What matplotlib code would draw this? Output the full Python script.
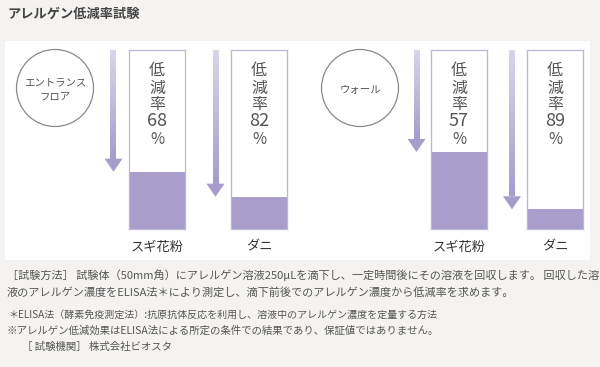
import numpy as np
import matplotlib
matplotlib.use("Agg")
import matplotlib.pyplot as plt
from matplotlib.patches import Rectangle, Circle, Polygon
from matplotlib.colors import LinearSegmentedColormap

plt.rcParams['font.family'] = ['Noto Sans CJK JP', 'DejaVu Sans']

# data
title = 'アレルゲン低減率試験'
places = ['エントランス\nフロア', 'ウォール']
allergens = ['スギ花粉', 'ダニ', 'スギ花粉', 'ダニ']
reduction = [68, 82, 57, 89]   # %
notes = [
    '［試験方法］ 試験体（50mm角）にアレルゲン溶液250μLを滴下し、一定時間後にその溶液を回収します。 回収した溶',
    '液のアレルゲン濃度をELISA法＊により測定し、滴下前後でのアレルゲン濃度から低減率を求めます。',
    '＊ELISA法（酵素免疫測定法）:抗原抗体反応を利用し、溶液中のアレルゲン濃度を定量する方法',
    '※アレルゲン低減効果はELISA法による所定の条件での結果であり、保証値ではありません。',
    '［ 試験機関］ 株式会社ビオスタ',
]

W, H = 600, 367
BG = '#f4f3f1'
FILL = '#a89dcb'
EDGE = '#bdb7d7'
TXT = '#555555'

fig = plt.figure(figsize=(6, 3.67), dpi=100, facecolor=BG)

# background layer, pixel coords
bg = fig.add_axes([0, 0, 1, 1])
bg.set_xlim(0, W)
bg.set_ylim(H, 0)
bg.axis('off')
bg.add_patch(Rectangle((5, 41), 585, 219, facecolor='white', edgecolor='none'))
bg.text(8, 14, title, fontsize=9.5, fontweight='bold', color='#444444', va='center', ha='left')

circle_x = [55, 360]
for cx, name in zip(circle_x, places):
    bg.add_patch(Circle((cx, 88), 38.5, facecolor='white', edgecolor='#8a8a8a', lw=0.9))
    bg.text(cx, 90, name, fontsize=7.5, color=TXT, ha='center', va='center', linespacing=1.65)

note_y = [275, 292, 315, 331, 347]
note_x = [7, 7, 8, 7, 22]
note_fs = [8, 8, 7.2, 7.5, 7.5]
for x, y, s, fs in zip(note_x, note_y, notes, note_fs):
    bg.text(x, y, s, fontsize=fs, color=TXT, ha='left', va='center')

# bars
box_left = [129, 231, 431, 527]
box_w = 56
arrow_x = [113.5, 215.5, 416.5, 512]
top, bottom = 50, 229

def fig_rect(x0, y0, w, h):
    return [x0 / W, 1 - (y0 + h) / H, w / W, h / H]

cmap = LinearSegmentedColormap.from_list('arr', ['#a79dcc', '#d9d5ea'])
grad = np.linspace(0, 1, 100).reshape(-1, 1)

for i, r in enumerate(reduction):
    ax = fig.add_axes(fig_rect(box_left[i], top, box_w, bottom - top))
    ax.set_xlim(0, 1)
    ax.set_ylim(0, 100)
    ax.bar([0.5], [100 - r], width=1.0, color=FILL, edgecolor='none')
    ax.set_xticks([])
    ax.set_yticks([])
    for sp in ax.spines.values():
        sp.set_color(EDGE)
        sp.set_linewidth(0.9)
    bg.text(box_left[i] + box_w / 2, 247, allergens[i], fontsize=9.5, color='#333333',
            ha='center', va='center')

    # arrow, its length is the reduction
    aw = 20
    aa = fig.add_axes(fig_rect(arrow_x[i] - aw / 2, top, aw, bottom - top))
    aa.axis('off')
    tip = 100 - r
    head = 7.3
    aa.imshow(grad, cmap=cmap, origin='lower', aspect='auto',
              extent=[-3, 3, tip + head, 100])
    aa.add_patch(Polygon([(-9, tip + head), (9, tip + head), (0, tip)],
                         closed=True, facecolor='#a79dcc', edgecolor='none'))
    aa.set_xlim(-10, 10)
    aa.set_ylim(0, 100)

# text on top of the boxes
txt = fig.add_axes([0, 0, 1, 1])
txt.set_xlim(0, W)
txt.set_ylim(H, 0)
txt.axis('off')
txt.set_zorder(10)
for i, r in enumerate(reduction):
    cx = box_left[i] + box_w / 2
    for ch, yy in zip(['低', '減', '率'], [71, 88, 105]):
        txt.text(cx, yy, ch, fontsize=11.5, color=TXT, ha='center', va='center')
    txt.text(cx, 121, str(r), fontsize=13, color=TXT, ha='center', va='center')
    txt.text(cx, 139, '%', fontsize=11, color=TXT, ha='center', va='center')

fig.savefig('out.png', dpi=100, facecolor=BG)
